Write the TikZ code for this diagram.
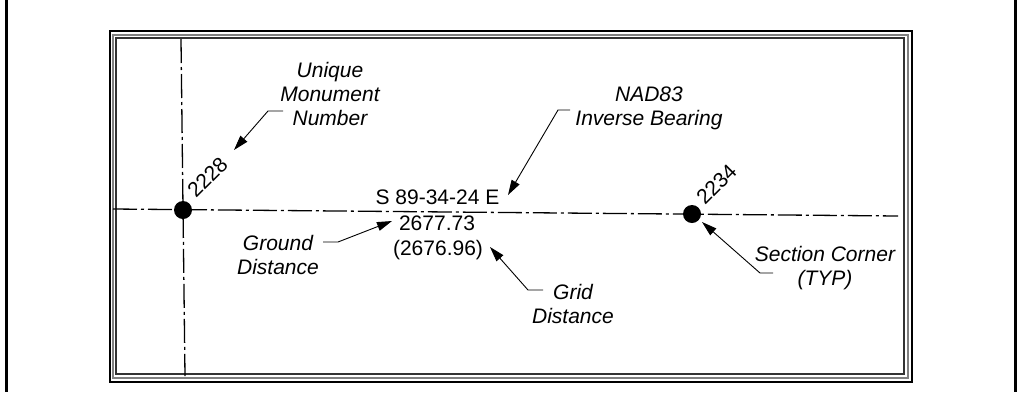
\documentclass[tikz,border=0pt]{standalone}
\usepackage{fontspec}
\setmainfont{Liberation Sans}
\usetikzlibrary{arrows.meta}

\tikzset{
  survey/.style={line width=1.3pt,dash pattern=on 24pt off 4pt on 3pt off 4pt},
  leader/.style={line width=0.9pt,-{Triangle[length=15pt,width=9pt]}},
  note/.style={font=\fontsize{21}{24}\selectfont\itshape,align=center,inner sep=0pt},
  figure/.style={font=\fontsize{21}{25}\selectfont,inner sep=0pt},
  corner/.style={circle,fill,inner sep=0pt,minimum size=18pt}
}

\begin{document}
\begin{tikzpicture}[x=1pt,y=-1pt]
  \useasboundingbox (0,0) rectangle (1023,392);
  \draw[line width=3pt] (6,0) -- (6,392);
  \draw[line width=3pt] (1015,0) -- (1015,392);

  % triple border
  \draw[line width=1.2pt] (110,31) rectangle (912,382);
  \draw[line width=1.2pt,gray] (113,35) rectangle (908,378);
  \draw[line width=1.2pt,black!80] (116,38) rectangle (904,374);

  % section lines
  \draw[survey] (113,209) -- (898,216);
  \draw[survey] (181,39) -- (185,376);

  \node[corner] (c2228) at (183,210) {};
  \node[corner] (c2234) at (692,214) {};
  \node[figure,rotate=45,anchor=base west] (t2228) at (196,199) {2228};
  \node[figure,rotate=45,anchor=base west] (t2234) at (705,206) {2234};

  % bearing and distances
  \node[figure,anchor=base] (bearing) at (437.5,204) {S 89-34-24 E};
  \node[figure,anchor=base] (ground) at (437,230) {2677.73};
  \node[figure,anchor=base] (grid) at (438,255) {(2676.96)};

  % notes
  \node[note] (monument) at (330,94) {Unique\\Monument\\Number};
  \node[note] (nad) at (649,108) {NAD83\\Inverse Bearing};
  \node[note] (groundnote) at (278,255) {Ground\\Distance};
  \node[note] (gridnote) at (573,304) {Grid\\Distance};
  \node[note] (cornernote) at (825,268) {Section Corner\\(TYP)};

  \coordinate (monumentA) at (283,111);
  \coordinate (monumentB) at (268,111);
  \coordinate (monumentTip) at (234,150);
  \coordinate (nadA) at (570,110);
  \coordinate (nadB) at (558,110);
  \coordinate (nadTip) at (508,195);
  \coordinate (groundA) at (323,242);
  \coordinate (groundB) at (338,242);
  \coordinate (groundTip) at (392,221);
  \coordinate (gridA) at (543,290);
  \coordinate (gridB) at (528,290);
  \coordinate (gridTip) at (490,247);
  \coordinate (cornerA) at (773,273);
  \coordinate (cornerB) at (760,273);
  \coordinate (cornerTip) at (702,222);

  \draw[leader] (monumentA) -- (monumentB) -- (monumentTip);
  \draw[leader] (nadA) -- (nadB) -- (nadTip);
  \draw[leader] (groundA) -- (groundB) -- (groundTip);
  \draw[leader] (gridA) -- (gridB) -- (gridTip);
  \draw[leader] (cornerA) -- (cornerB) -- (cornerTip);
\end{tikzpicture}
\end{document}
